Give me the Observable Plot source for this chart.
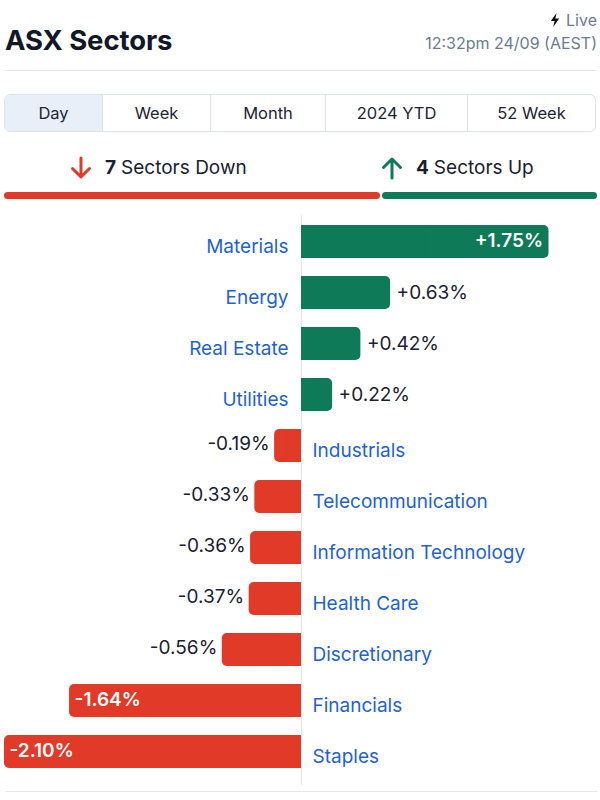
<!DOCTYPE html>
<html>
<head>
<meta charset="utf-8">
<script src="https://cdn.jsdelivr.net/npm/d3@7"></script>
<script src="https://cdn.jsdelivr.net/npm/@observablehq/plot@0.6"></script>
<style>
  html, body { margin: 0; padding: 0; background: #fff; }
  body { width: 600px; height: 800px; position: relative; font-family: Inter, "Noto Sans", sans-serif; color: #151b28; overflow: hidden; }
  .abs { position: absolute; }
  #title { left: 5px; top: 24px; font-size: 27.5px; font-weight: 700; color: #121826; letter-spacing: -0.1px; line-height: 32px; }
  #live { right: 3px; top: 10px; font-size: 16px; color: #6b7c93; line-height: 20px; display: flex; align-items: center; gap: 6px; }
  #stamp { right: 3px; top: 33px; font-size: 16px; color: #6b7c93; line-height: 20px; }
  #divider { left: 5px; width: 592px; top: 70px; height: 1px; background: #e4e7eb; }
  #tabs { left: 4px; top: 94px; width: 590px; height: 36px; border: 1px solid #dde3ea; border-radius: 6px; display: flex; overflow: hidden; }
  #tabs div { display: flex; align-items: center; justify-content: center; font-size: 16.5px; color: #1d2433; border-left: 1px solid #dde3ea; box-sizing: border-box; }
  #tabs div:first-child { border-left: none; background: #e8eff8; }
  .count { top: 156px; font-size: 19px; line-height: 22px; color: #1a2030; display: flex; align-items: center; }
  .count b { font-weight: 700; margin-right: 5px; }
  #countbar { left: 4px; top: 192px; width: 593px; height: 7px; display: flex; gap: 2px; }
  #countbar div { height: 7px; border-radius: 4px; }
  #chart { left: 0; top: 210px; }
  #bottom { left: 5px; width: 592px; top: 791px; height: 1px; background: #e4e7eb; }
</style>
</head>
<body>
<div id="title" class="abs">ASX Sectors</div>
<div id="live" class="abs"><svg width="10" height="14" viewBox="0 0 10 14"><path d="M6.5 0 L0.8 8 L4.6 8 L3.2 14 L9.2 5.6 L5.4 5.6 Z" fill="#111"/></svg><span>Live</span></div>
<div id="stamp" class="abs">12:32pm 24/09 (AEST)</div>
<div id="divider" class="abs"></div>
<div id="tabs" class="abs"></div>
<div id="down" class="abs count"></div>
<div id="up" class="abs count"></div>
<div id="countbar" class="abs"></div>
<div id="chart" class="abs"></div>
<div id="bottom" class="abs"></div>
<script>
// ---- data ----
const tabLabels = ["Day", "Week", "Month", "2024 YTD", "52 Week"];
const sectors = ["Materials", "Energy", "Real Estate", "Utilities", "Industrials", "Telecommunication",
  "Information Technology", "Health Care", "Discretionary", "Financials", "Staples"];
const changes = [1.75, 0.63, 0.42, 0.22, -0.19, -0.33, -0.36, -0.37, -0.56, -1.64, -2.10];

// ---- styling ----
const GREEN = "#0f7a58";
const RED = "#e23a28";
const BLUE = "#1f62d3";
const DARK = "#1b2130";

// tabs
const tabWidths = [97, 108, 115, 142, 128];
const tabs = document.getElementById("tabs");
tabLabels.forEach((t, i) => {
  const d = document.createElement("div");
  d.style.width = tabWidths[i] + "px";
  d.textContent = t;
  tabs.appendChild(d);
});

// counts
const nDown = changes.filter(v => v < 0).length;
const nUp = changes.filter(v => v > 0).length;
const downArrow = `<svg width="24" height="24" viewBox="0 0 24 24" style="margin-right:12px"><path d="M12 2 V21 M3.5 12.5 L12 21 L20.5 12.5" fill="none" stroke="${RED}" stroke-width="3" stroke-linecap="round" stroke-linejoin="round"/></svg>`;
const upArrow = `<svg width="24" height="24" viewBox="0 0 24 24" style="margin-right:12px"><path d="M12 22 V3 M3.5 11.5 L12 3 L20.5 11.5" fill="none" stroke="${GREEN}" stroke-width="3" stroke-linecap="round" stroke-linejoin="round"/></svg>`;
const down = document.getElementById("down");
down.style.left = "69px";
down.innerHTML = `${downArrow}<b>${nDown}</b>Sectors Down`;
const up = document.getElementById("up");
up.style.left = "380px";
up.innerHTML = `${upArrow}<b>${nUp}</b>Sectors Up`;
const cb = document.getElementById("countbar");
cb.innerHTML = `<div style="flex:${nDown};background:${RED}"></div><div style="flex:${nUp};background:${GREEN}"></div>`;

// chart
const data = sectors.map((s, i) => ({sector: s, value: changes[i]}));
const pos = data.filter(d => d.value >= 0);
const neg = data.filter(d => d.value < 0);
const big = d => Math.abs(d.value) >= 1;
const fmt = v => (v > 0 ? "+" : "") + v.toFixed(2) + "%";
const FS = 19;

const chart = Plot.plot({
  width: 600,
  height: 580,
  marginTop: 5,
  marginBottom: 5,
  marginLeft: 0,
  marginRight: 0,
  style: {fontFamily: "Inter, 'Noto Sans', sans-serif", fontSize: "19px", background: "transparent", overflow: "visible"},
  x: {domain: [-2.10, 1.75], range: [4, 548.5], axis: null},
  y: {domain: sectors, range: [13.6, 558.4], paddingInner: 0.36, paddingOuter: 0, axis: null},
  marks: [
    Plot.ruleX([0], {stroke: "#e3e6ea", strokeWidth: 1}),
    // bars (rounded), then square-off the zero side
    Plot.barX(pos, {x1: 0, x2: "value", y: "sector", fill: GREEN, rx: 5}),
    Plot.barX(pos, {x1: 0, x2: d => d.value / 2, y: "sector", fill: GREEN}),
    Plot.barX(neg, {x1: 0, x2: "value", y: "sector", fill: RED, rx: 5}),
    Plot.barX(neg, {x1: 0, x2: d => d.value / 2, y: "sector", fill: RED}),
    // sector names on the opposite side of zero
    Plot.text(pos, {x: () => 0, y: "sector", text: "sector", textAnchor: "end", dx: -13, dy: 5, fill: BLUE, fontSize: FS}),
    Plot.text(neg, {x: () => 0, y: "sector", text: "sector", textAnchor: "start", dx: 11, dy: 5, fill: BLUE, fontSize: FS}),
    // value labels outside small bars
    Plot.text(pos.filter(d => !big(d)), {x: "value", y: "sector", text: d => fmt(d.value), textAnchor: "start", dx: 6, dy: 0, fill: DARK, fontSize: FS}),
    Plot.text(neg.filter(d => !big(d)), {x: "value", y: "sector", text: d => fmt(d.value), textAnchor: "end", dx: -5, dy: -2, fill: DARK, fontSize: FS}),
    // value labels inside big bars
    Plot.text(pos.filter(big), {x: "value", y: "sector", text: d => fmt(d.value), textAnchor: "end", dx: -6, dy: -1, fill: "white", fontWeight: 600, fontSize: FS}),
    Plot.text(neg.filter(big), {x: "value", y: "sector", text: d => fmt(d.value), textAnchor: "start", dx: 5, dy: -1, fill: "white", fontWeight: 600, fontSize: FS})
  ]
});
document.getElementById("chart").appendChild(chart);
</script>
</body>
</html>
